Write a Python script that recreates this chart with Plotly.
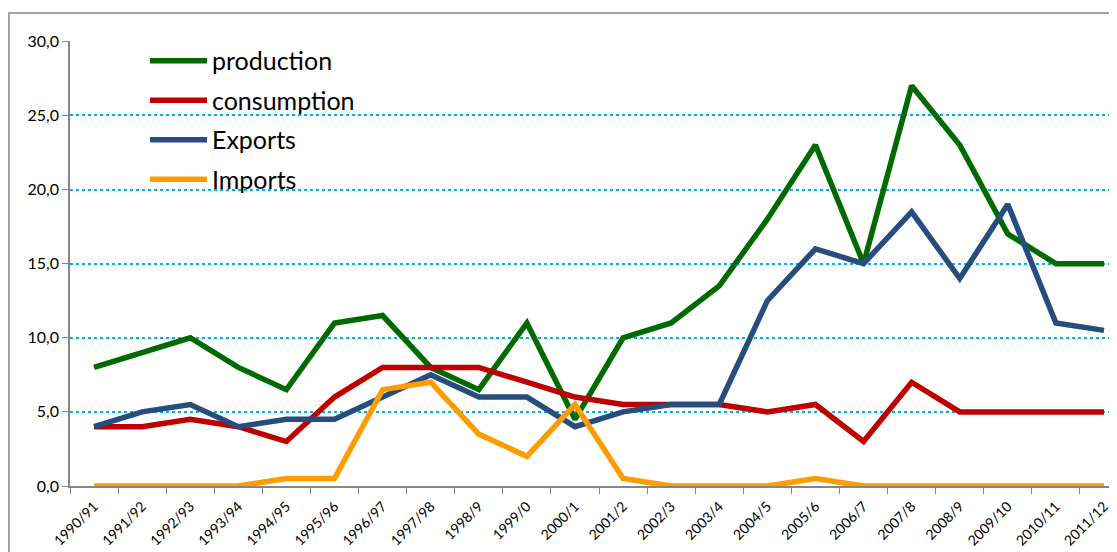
import plotly.graph_objects as go

categories = ["1990/91", "1991/92", "1992/93", "1993/94", "1994/95", "1995/96", "1996/97",
              "1997/98", "1998/9", "1999/0", "2000/1", "2001/2", "2002/3", "2003/4", "2004/5",
              "2005/6", "2006/7", "2007/8", "2008/9", "2009/10", "2010/11", "2011/12"]
production = [8, 9, 10, 8, 6.5, 11, 11.5, 8, 6.5, 11, 4.5, 10, 11, 13.5, 18, 23, 15, 27, 23, 17, 15, 15]
consumption = [4, 4, 4.5, 4, 3, 6, 8, 8, 8, 7, 6, 5.5, 5.5, 5.5, 5, 5.5, 3, 7, 5, 5, 5, 5]
exports = [4, 5, 5.5, 4, 4.5, 4.5, 6, 7.5, 6, 6, 4, 5, 5.5, 5.5, 12.5, 16, 15, 18.5, 14, 19, 11, 10.5]
imports = [0, 0, 0, 0, 0.5, 0.5, 6.5, 7, 3.5, 2, 5.5, 0.5, 0, 0, 0, 0.5, 0, 0, 0, 0, 0, 0]
ytick_vals = [0, 5, 10, 15, 20, 25, 30]
ytick_text = ["0,0", "5,0", "10,0", "15,0", "20,0", "25,0", "30,0"]

series = [
    ("production", production, "#006A00"),
    ("consumption", consumption, "#C00000"),
    ("Exports", exports, "#264D7E"),
    ("Imports", imports, "#FF9C00"),
]

fig = go.Figure()
for i, (name, vals, col) in enumerate(series):
    fig.add_trace(go.Scatter(x=categories, y=vals, name=name, mode="lines",
                             line=dict(color=col, width=5.5), legendgroup=f"g{i}"))

grid_col = "#00B0F0"
fig.update_layout(
    width=1109, height=544,
    margin=dict(l=62, r=0, t=33, b=66, autoexpand=False),
    paper_bgcolor="white", plot_bgcolor="white",
    font=dict(family="Lato", color="#000000"),
    showlegend=True,
    legend=dict(x=0.0716, y=1.007, xanchor="left", yanchor="top",
                font=dict(size=25, color="#000000", family="Lato"), bgcolor="rgba(0,0,0,0)",
                tracegroupgap=4, itemwidth=57),
    xaxis=dict(type="category", showgrid=False, showline=True, linecolor="#868686",
               linewidth=1.5, ticks="outside", tickcolor="#868686", ticklen=6,
               tickson="boundaries", tickangle=-45, tickfont=dict(size=14, family="Lato"),
               ticklabelstandoff=5,
               range=[-0.5, 21.27], zeroline=False, automargin=False),
    yaxis=dict(range=[0, 30.02], tickvals=ytick_vals, ticktext=ytick_text,
               showgrid=True, gridcolor=grid_col, griddash="dot", gridwidth=1.5,
               showline=True, linecolor="#868686", linewidth=1.5,
               ticks="outside", tickcolor="#868686", ticklen=6,
               tickfont=dict(size=16, family="Lato"), zeroline=False, automargin=False),
)

# outer chart frame (partially visible at top-left)
fig.add_shape(type="rect", xref="paper", yref="paper",
              x0=-0.0583, y0=-0.3, x1=1.1, y1=1.063,
              line=dict(color="#868686", width=1.5), fillcolor="rgba(0,0,0,0)", layer="below")

fig.write_html("out.html")
